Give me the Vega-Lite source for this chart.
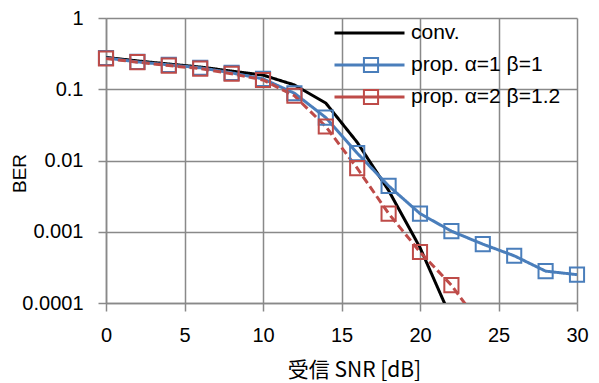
{
  "$schema": "https://vega.github.io/schema/vega-lite/v6.json",
  "width": 471,
  "height": 285,
  "autosize": {"type": "none"},
  "padding": {"left": 106, "top": 18, "right": 22, "bottom": 80},
  "background": "white",
  "config": {"view": {"stroke": null}, "font": "Liberation Sans"},
  "data": {
    "values": [
      {"snr": 0, "BER": 0.28, "series": "conv."},
      {"snr": 2, "BER": 0.25, "series": "conv."},
      {"snr": 4, "BER": 0.226, "series": "conv."},
      {"snr": 6, "BER": 0.205, "series": "conv."},
      {"snr": 8, "BER": 0.18, "series": "conv."},
      {"snr": 10, "BER": 0.158, "series": "conv."},
      {"snr": 12, "BER": 0.115, "series": "conv."},
      {"snr": 14, "BER": 0.064, "series": "conv."},
      {"snr": 16, "BER": 0.018, "series": "conv."},
      {"snr": 18, "BER": 0.0038, "series": "conv."},
      {"snr": 20, "BER": 0.0006, "series": "conv."},
      {"snr": 22, "BER": 0.00006, "series": "conv."},
      {"snr": 0, "BER": 0.275, "series": "prop. α=1 β=1"},
      {"snr": 2, "BER": 0.242, "series": "prop. α=1 β=1"},
      {"snr": 4, "BER": 0.22, "series": "prop. α=1 β=1"},
      {"snr": 6, "BER": 0.2, "series": "prop. α=1 β=1"},
      {"snr": 8, "BER": 0.17, "series": "prop. α=1 β=1"},
      {"snr": 10, "BER": 0.14, "series": "prop. α=1 β=1"},
      {"snr": 12, "BER": 0.088, "series": "prop. α=1 β=1"},
      {"snr": 14, "BER": 0.04, "series": "prop. α=1 β=1"},
      {"snr": 16, "BER": 0.0127, "series": "prop. α=1 β=1"},
      {"snr": 18, "BER": 0.0044, "series": "prop. α=1 β=1"},
      {"snr": 20, "BER": 0.0018, "series": "prop. α=1 β=1"},
      {"snr": 22, "BER": 0.00102, "series": "prop. α=1 β=1"},
      {"snr": 24, "BER": 0.00067, "series": "prop. α=1 β=1"},
      {"snr": 26, "BER": 0.00046, "series": "prop. α=1 β=1"},
      {"snr": 28, "BER": 0.00028, "series": "prop. α=1 β=1"},
      {"snr": 30, "BER": 0.00025, "series": "prop. α=1 β=1"},
      {"snr": 0, "BER": 0.27, "series": "prop. α=2 β=1.2"},
      {"snr": 2, "BER": 0.24, "series": "prop. α=2 β=1.2"},
      {"snr": 4, "BER": 0.215, "series": "prop. α=2 β=1.2"},
      {"snr": 6, "BER": 0.195, "series": "prop. α=2 β=1.2"},
      {"snr": 8, "BER": 0.165, "series": "prop. α=2 β=1.2"},
      {"snr": 10, "BER": 0.135, "series": "prop. α=2 β=1.2"},
      {"snr": 12, "BER": 0.081, "series": "prop. α=2 β=1.2"},
      {"snr": 14, "BER": 0.03, "series": "prop. α=2 β=1.2"},
      {"snr": 16, "BER": 0.0078, "series": "prop. α=2 β=1.2"},
      {"snr": 18, "BER": 0.0018, "series": "prop. α=2 β=1.2"},
      {"snr": 20, "BER": 0.00052, "series": "prop. α=2 β=1.2"},
      {"snr": 22, "BER": 0.000178, "series": "prop. α=2 β=1.2"},
      {"snr": 24, "BER": 0.000045, "series": "prop. α=2 β=1.2"}
    ]
  },
  "layer": [
    {
      "mark": {"type": "line", "strokeWidth": 3, "clip": true},
      "encoding": {
        "x": {
          "field": "snr", "type": "quantitative",
          "scale": {"domain": [0, 30], "nice": false, "zero": false},
          "axis": {
            "values": [0, 5, 10, 15, 20, 25, 30],
            "title": "受信 SNR [dB]",
            "grid": true, "gridColor": "#898989", "gridWidth": 1.5,
            "domainColor": "#898989", "domainWidth": 1.5,
            "tickColor": "#898989", "tickWidth": 1.5, "tickSize": 8,
            "labelFont": "Liberation Sans", "labelFontSize": 20, "labelColor": "#000000",
            "labelPadding": 14, "labelFlush": false, "labelOverlap": false,
            "titleFont": "Noto Sans CJK JP", "titleFontSize": 21, "titleFontWeight": "normal",
            "titleColor": "#000000", "titleX": 248, "titleY": 67,
            "titleAlign": "center", "titleBaseline": "middle"
          }
        },
        "y": {
          "field": "BER", "type": "quantitative",
          "scale": {"type": "log", "domain": [0.0001, 1], "nice": false},
          "axis": {
            "values": [0.0001, 0.001, 0.01, 0.1, 1],
            "format": "~g",
            "title": "BER",
            "grid": true, "gridColor": "#898989", "gridWidth": 1.5,
            "domainColor": "#898989", "domainWidth": 1.5,
            "tickColor": "#898989", "tickWidth": 1.5, "tickSize": 8,
            "labelFont": "Liberation Sans", "labelFontSize": 20, "labelColor": "#000000",
            "labelPadding": 15, "labelFlush": false, "labelOverlap": false,
            "titleFont": "Liberation Sans", "titleFontSize": 19, "titleFontWeight": "normal",
            "titleColor": "#000000", "titleX": -87, "titleY": 155, "titleAngle": 270,
            "titleAlign": "center", "titleBaseline": "middle"
          }
        },
        "color": {
          "field": "series", "type": "nominal",
          "scale": {"domain": ["conv.", "prop. α=1 β=1", "prop. α=2 β=1.2"], "range": ["#000000", "#4A7EBB", "#BE4B48"]},
          "legend": {
            "title": null, "orient": "none", "legendX": 227, "legendY": 2,
            "symbolType": "stroke", "symbolSize": 4900, "symbolStrokeWidth": 3,
            "labelFont": "Liberation Sans", "labelFontSize": 21, "labelFontWeight": "normal",
            "labelColor": "#000000",
            "labelOffset": 5, "clipHeight": 26, "rowPadding": 6, "padding": 0
          }
        },
        "strokeDash": {
          "field": "series", "type": "nominal",
          "scale": {"domain": ["conv.", "prop. α=1 β=1", "prop. α=2 β=1.2"], "range": [[1, 0], [1, 0], [8, 4]]},
          "legend": null
        }
      }
    },
    {
      "transform": [{"filter": "datum.series !== 'conv.' && datum.BER >= 0.0001"}],
      "mark": {"type": "point", "shape": "square", "filled": false, "size": 200, "strokeWidth": 2, "opacity": 1},
      "encoding": {
        "x": {"field": "snr", "type": "quantitative"},
        "y": {"field": "BER", "type": "quantitative"},
        "color": {
          "field": "series", "type": "nominal",
          "scale": {"domain": ["prop. α=1 β=1", "prop. α=2 β=1.2"], "range": ["#4A7EBB", "#BE4B48"]},
          "legend": {
            "title": null, "orient": "none", "legendX": 255, "legendY": 34,
            "symbolType": "square", "symbolSize": 200, "symbolStrokeWidth": 2,
            "symbolFillColor": "transparent", "symbolOpacity": 1,
            "labelExpr": "''", "labelOpacity": 0, "labelFontSize": 20,
            "clipHeight": 26, "rowPadding": 6, "padding": 0
          }
        }
      }
    }
  ],
  "resolve": {"scale": {"color": "independent"}, "legend": {"color": "independent"}}
}
